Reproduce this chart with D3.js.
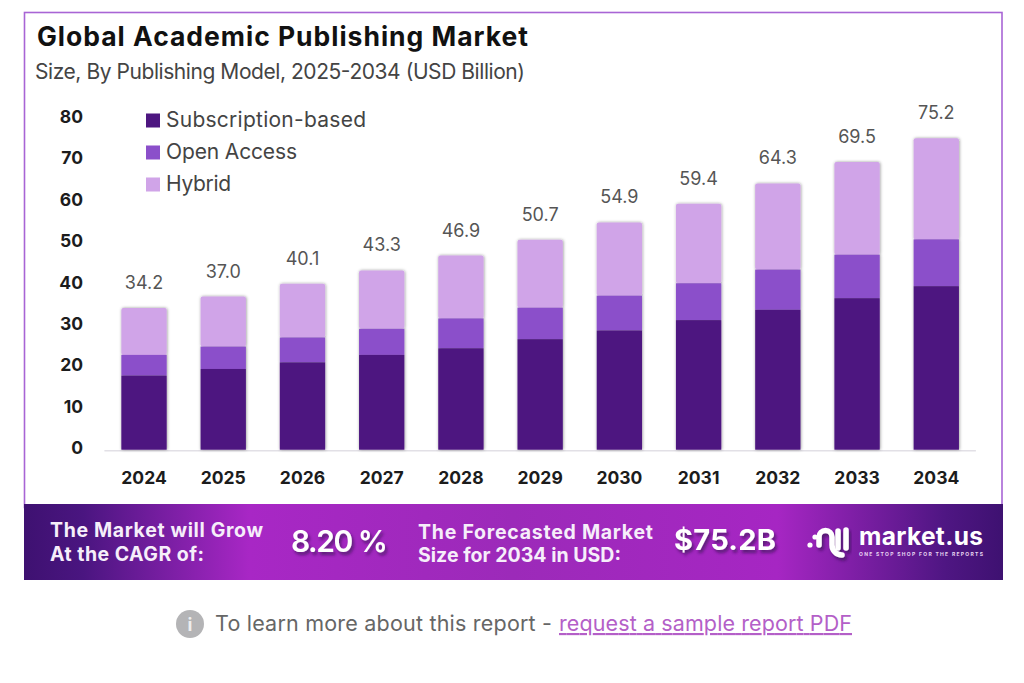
<!DOCTYPE html>
<html lang="en">
<head>
<meta charset="utf-8">
<title>Global Academic Publishing Market</title>
<script src="https://cdn.jsdelivr.net/npm/d3@7/dist/d3.min.js"></script>
<style>
  html, body { margin: 0; background: #fff; }
  svg { display: block; }
  text { font-family: Inter, "Open Sans", sans-serif; }
</style>
</head>
<body>
<svg id="chart" width="1024" height="683"></svg>
<script>
// Market size by publishing model, USD billion
const years = ["2024","2025","2026","2027","2028","2029","2030","2031","2032","2033","2034"];
const subscription = [17.9,19.5,21.1,22.9,24.5,26.7,28.8,31.3,33.8,36.6,39.5];
const openAccess   = [5.0,5.4,6.0,6.3,7.2,7.6,8.4,8.9,9.7,10.5,11.3];
const hybrid       = [11.3,12.1,13.0,14.1,15.2,16.4,17.7,19.2,20.8,22.4,24.4];
const totals       = ["34.2","37.0","40.1","43.3","46.9","50.7","54.9","59.4","64.3","69.5","75.2"];
const yTicks = [0,10,20,30,40,50,60,70,80];
const seriesNames = ["Subscription-based","Open Access","Hybrid"];
const seriesColors = ["#4d1680","#8b4fca","#d0a4e8"];

const svg = d3.select("#chart");
const defs = svg.append("defs");

const shadow = defs.append("filter").attr("id","barShadow")
  .attr("x","-20%").attr("y","-10%").attr("width","140%").attr("height","120%");
shadow.append("feDropShadow").attr("dx",0.5).attr("dy",0).attr("stdDeviation",1.6)
  .attr("flood-color","#000").attr("flood-opacity",0.42);

const textShadow = defs.append("filter").attr("id","textShadow")
  .attr("x","-20%").attr("y","-30%").attr("width","140%").attr("height","170%");
textShadow.append("feDropShadow").attr("dx",2).attr("dy",3).attr("stdDeviation",1.6)
  .attr("flood-color","#2a0a4a").attr("flood-opacity",0.6);

const bannerFill = defs.append("linearGradient").attr("id","bannerFill");
[[0,"#3e1171"],[0.06,"#4a1580"],[0.23,"#a827c5"],[0.5,"#9c2ab9"],[0.77,"#a626c3"],[0.94,"#4f1683"],[1,"#3e1171"]]
  .forEach(([o,c]) => bannerFill.append("stop").attr("offset",o).attr("stop-color",c));

// Frame and footer band
svg.append("rect").attr("x",24.5).attr("y",12.5).attr("width",977.5).attr("height",495)
  .attr("fill","#fff").attr("stroke","#a865d5").attr("stroke-width",1.6);
svg.append("rect").attr("x",24).attr("y",504).attr("width",979).attr("height",76)
  .attr("fill","url(#bannerFill)");

// Fixed-width text helper: the fourth argument is the run's drawn width
function label(x, y, str, width, size, weight, fill) {
  const t = svg.append("text").attr("x",x).attr("y",y).text(str)
    .attr("font-size",size).attr("font-weight",weight).attr("fill",fill);
  if (width) t.attr("textLength",width).attr("lengthAdjust","spacing");
  return t;
}

label(37,46,"Global Academic Publishing Market",491,26.5,700,"#111");
label(35,79,"Size, By Publishing Model, 2025-2034 (USD Billion)",490,21,400,"#444");

// Scales
const x = d3.scaleBand().domain(years).range([104.4,975.9]).paddingInner(0.428).paddingOuter(0.214);
const y = d3.scaleLinear().domain([0,80]).range([449.7,118.5]);

// Stacked columns
const rows = years.map((year,i) => ({year, Subscription:subscription[i], Open:openAccess[i], Hybrid:hybrid[i]}));
const stacked = d3.stack().keys(["Subscription","Open","Hybrid"])(rows);

// Baseline
svg.append("line").attr("x1",x.range()[0]).attr("x2",x.range()[1])
  .attr("y1",y(0)+1).attr("y2",y(0)+1).attr("stroke","#e2e0e6").attr("stroke-width",1.5);

const columns = svg.append("g").attr("filter","url(#barShadow)");
stacked.slice().reverse().forEach(layer => {
  columns.append("g").attr("fill",seriesColors[layer.index])
    .selectAll("rect").data(layer).join("rect")
    .attr("x",d => x(d.data.year))
    .attr("width",x.bandwidth())
    .attr("y",d => y(d[1]))
    .attr("height",d => y(d[0]) - y(d[1]))
    .attr("rx",layer.key === "Hybrid" ? 2 : 0);
});

// Totals above the columns
svg.append("g").selectAll("text").data(years).join("text")
  .attr("x",d => x(d) + x.bandwidth()/2)
  .attr("y",(d,i) => y(subscription[i]+openAccess[i]+hybrid[i]) - 19)
  .attr("text-anchor","middle").attr("font-size",18).attr("fill","#555")
  .text((d,i) => totals[i]);

// Axes
const yAxis = svg.append("g").attr("transform","translate(83,-1.7)")
  .call(d3.axisLeft(y).tickValues(yTicks).tickSize(0).tickPadding(0));
yAxis.select(".domain").remove();
yAxis.selectAll("text").attr("font-size",17.5).attr("font-weight",700).attr("fill","#1c1c1c")
  .attr("font-family","Inter, sans-serif");

const xAxis = svg.append("g").attr("transform","translate(0,478)")
  .call(d3.axisBottom(x).tickSize(0).tickPadding(0));
xAxis.select(".domain").remove();
xAxis.selectAll("text").attr("font-size",17.5).attr("font-weight",700).attr("fill","#1c1c1c")
  .attr("font-family","Inter, sans-serif").attr("dy","0.36em").attr("y",0);

// Legend
const legendY = d3.scalePoint().domain(seriesNames).range([120.5,184.5]);
const legendWidths = [200,131,65];
const legend = svg.append("g").selectAll("g").data(seriesNames).join("g")
  .attr("transform",d => `translate(146,${legendY(d)})`);
legend.append("rect").attr("y",-7).attr("width",14).attr("height",14)
  .attr("fill",(d,i) => seriesColors[i]);
legend.append("text").attr("x",20).attr("y",6).attr("font-size",21).attr("fill","#444")
  .attr("textLength",(d,i) => legendWidths[i]).attr("lengthAdjust","spacing")
  .text(d => d);

// Footer band text
label(50,537,"The Market will Grow",213,19.5,700,"#f6eefa");
label(50,561,"At the CAGR of:",154,19.5,700,"#f6eefa");
label(291,552,"8.20 %",97,30,600,"#fff").attr("filter","url(#textShadow)");
label(418,539,"The Forecasted Market",235,19.5,700,"#f6eefa");
label(418,562,"Size for 2034 in USD:",203,19.5,700,"#f6eefa");
label(674,550,"$75.2B",102,29,700,"#fff").attr("filter","url(#textShadow)");

// Brand mark
const mark = svg.append("g").attr("fill","none").attr("stroke","#fff").attr("stroke-width",5.5)
  .attr("stroke-linecap","round").attr("filter","url(#textShadow)");
mark.append("path").attr("d","M819 545V537a6.5 6.5 0 0 1 13 0V545a10 10 0 0 0 10 10");
mark.append("path").attr("d","M838 531V548");
mark.append("path").attr("d","M846 530V548");
svg.append("circle").attr("cx",810).attr("cy",545).attr("r",2.6).attr("fill","#fff");
svg.append("circle").attr("cx",815).attr("cy",537).attr("r",2.6).attr("fill","#fff");
label(859,545,"market.us",124,24.5,700,"#fff");
label(859,555.5,"ONE STOP SHOP FOR THE REPORTS",124,5,700,"#e8d6f2");

// Note below the band
svg.append("circle").attr("cx",190).attr("cy",624).attr("r",14).attr("fill","#b4b4b6");
svg.append("text").attr("x",190).attr("y",631).attr("text-anchor","middle")
  .attr("font-size",18).attr("font-weight",700).attr("fill","#eee").text("i");
label(215,631,"To learn more about this report -",337,21.5,400,"#666");
label(559,631,"request a sample report PDF",293,21.5,400,"#b45fc8")
  .attr("text-decoration","underline");
</script>
</body>
</html>
